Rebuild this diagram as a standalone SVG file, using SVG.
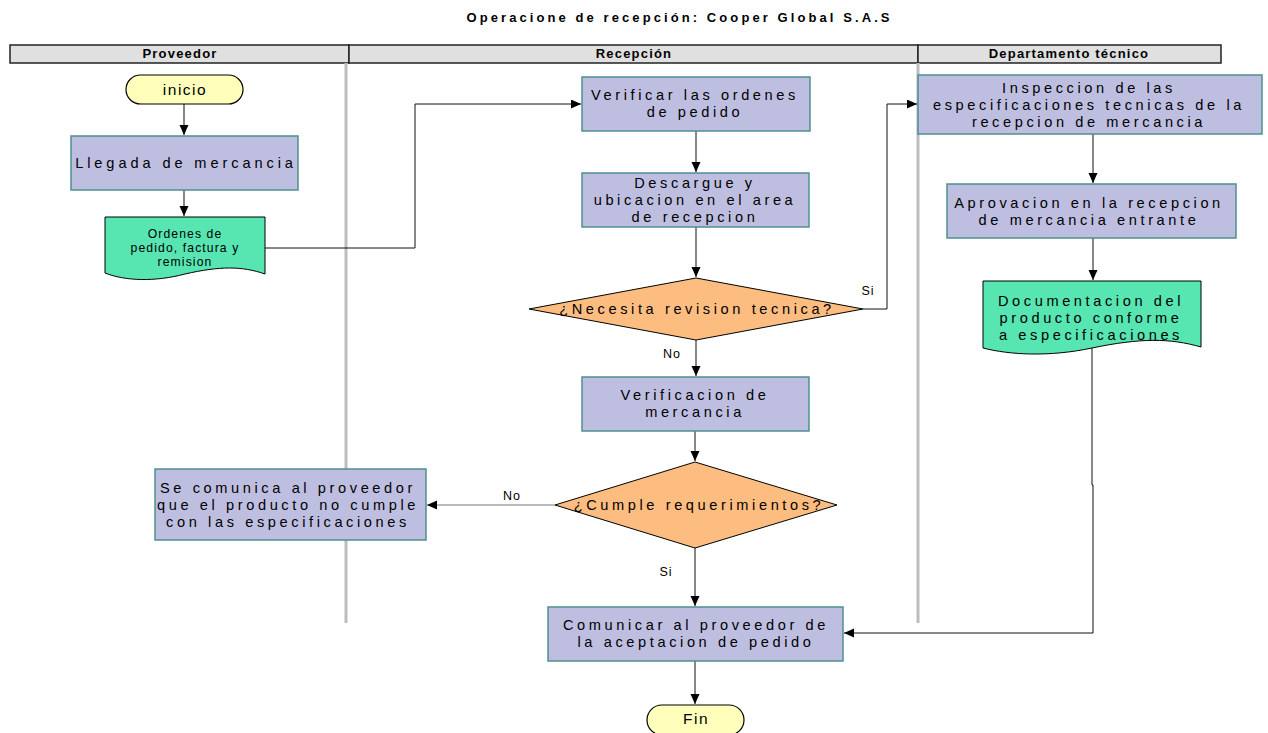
<svg xmlns="http://www.w3.org/2000/svg" width="1268" height="733" viewBox="0 0 1268 733">
<style>
text{font-family:"Liberation Sans",Arial,sans-serif;fill:#000;text-anchor:middle}
.t{font-size:13px;font-weight:bold}
.h{font-size:13px;font-weight:bold;letter-spacing:1.2px}
.n{font-size:14.6px;letter-spacing:3.6px}
.s{font-size:12.2px;letter-spacing:1.1px}
.l{font-size:12.5px;letter-spacing:1px}
.box{fill:#bebfe0;stroke:#4f8f8f;stroke-width:1.5}
.dec{fill:#fdbd80;stroke:#000;stroke-width:1}
.doc{fill:#57e6b2;stroke:#000;stroke-width:1}
.term{fill:#ffffbb;stroke:#000;stroke-width:1.2}
.hdr{fill:#e0e0e0;stroke:#222;stroke-width:1.5}
.lane{stroke:#bdbdbd;stroke-width:3;fill:none}
.c{fill:none;stroke:#111;stroke-width:1}
</style>
<defs>
<marker id="a" markerUnits="userSpaceOnUse" markerWidth="11" markerHeight="10" refX="10" refY="4.5" orient="auto">
<path d="M0,0 L10,4.5 L0,9 z" fill="#000"/>
</marker>
</defs>
<rect width="1268" height="733" fill="#fff"/>
<text class="t" x="678" y="22" textLength="423" lengthAdjust="spacing">Operacione de recepción: Cooper Global S.A.S</text>
<g id="lanes">
<rect class="hdr" x="10" y="45" width="339" height="18"/>
<rect class="hdr" x="349" y="45" width="569" height="18"/>
<rect class="hdr" x="918" y="45" width="303" height="18"/>
<text class="h" x="180" y="58">Proveedor</text>
<text class="h" x="634" y="58">Recepción</text>
<text class="h" x="1069" y="58">Departamento técnico</text>
<line class="lane" x1="346" y1="63" x2="346" y2="623"/>
<line class="lane" x1="918" y1="63" x2="918" y2="623"/>
</g>
<g id="connectors">
<path class="c" d="M184,104 V135" marker-end="url(#a)"/>
<path class="c" d="M184,190 V216" marker-end="url(#a)"/>
<path class="c" d="M265,248 H415 V104 H581" marker-end="url(#a)"/>
<path class="c" d="M696,131 V172" marker-end="url(#a)"/>
<path class="c" d="M696,227 V277" marker-end="url(#a)"/>
<path class="c" d="M863,309 H887 V104 H917" marker-end="url(#a)"/>
<path class="c" d="M696,340 V376" marker-end="url(#a)"/>
<path class="c" d="M695,431 V461" marker-end="url(#a)"/>
<path class="c" style="stroke:#777" d="M555,505 H427" marker-end="url(#a)"/>
<path class="c" d="M695,548 V606" marker-end="url(#a)"/>
<path class="c" d="M695,661 V704" marker-end="url(#a)"/>
<path class="c" d="M1093,134 V183" marker-end="url(#a)"/>
<path class="c" d="M1093,238 V280" marker-end="url(#a)"/>
<path class="c" d="M1092,346 V485 H1093 V633 H844" marker-end="url(#a)"/>
<text class="l" x="868" y="295">Si</text>
<text class="l" x="672" y="358">No</text>
<text class="l" x="512" y="500">No</text>
<text class="l" x="666" y="576">Si</text>
</g>
<g id="inicio">
<rect class="term" x="126" y="75" width="117" height="29" rx="14.5"/>
<text class="n" x="185" y="95" style="font-size:15.5px;letter-spacing:1.5px">inicio</text>
</g>
<g id="llegada">
<rect class="box" x="71" y="136" width="227" height="54"/>
<text class="n" x="186" y="168" style="letter-spacing:3.9px">Llegada de mercancia</text>
</g>
<g id="ordenes">
<path class="doc" d="M105,217 H265 V274 C242,266 220,266 185,274 C155,282 125,281 105,273 Z"/>
<text class="s" x="185" y="238">Ordenes de</text>
<text class="s" x="185" y="252">pedido, factura y</text>
<text class="s" x="185" y="266">remision</text>
</g>
<g id="verificar">
<rect class="box" x="582" y="77" width="228" height="54"/>
<text class="n" x="695" y="100">Verificar las ordenes</text>
<text class="n" x="695" y="117">de pedido</text>
</g>
<g id="descargue">
<rect class="box" x="582" y="173" width="227" height="54"/>
<text class="n" x="695" y="188">Descargue y</text>
<text class="n" x="695" y="205">ubicacion en el area</text>
<text class="n" x="695" y="222">de recepcion</text>
</g>
<g id="necesita">
<polygon class="dec" points="696,278 863,309 696,340 529,309"/>
<text class="n" x="697" y="314">¿Necesita revision tecnica?</text>
</g>
<g id="verificacion">
<rect class="box" x="582" y="377" width="227" height="54"/>
<text class="n" x="695" y="400">Verificacion de</text>
<text class="n" x="695" y="417">mercancia</text>
</g>
<g id="cumple">
<polygon class="dec" points="695,462 837,505 695,548 555,505"/>
<text class="n" x="699" y="510">¿Cumple requerimientos?</text>
</g>
<g id="secomunica">
<rect class="box" x="155" y="469" width="271" height="71"/>
<text class="n" x="288" y="493">Se comunica al proveedor</text>
<text class="n" x="288" y="510">que el producto no cumple</text>
<text class="n" x="288" y="527">con las especificaciones</text>
</g>
<g id="comunicar">
<rect class="box" x="548" y="607" width="295" height="54"/>
<text class="n" x="696" y="630">Comunicar al proveedor de</text>
<text class="n" x="696" y="647">la aceptacion de pedido</text>
</g>
<g id="fin">
<rect class="term" x="647" y="705" width="97" height="30" rx="15"/>
<text class="n" x="696" y="724" style="font-size:15.5px;letter-spacing:1.5px">Fin</text>
</g>
<g id="inspeccion">
<rect class="box" x="918" y="75" width="344" height="59"/>
<text class="n" x="1089" y="93">Inspeccion de las</text>
<text class="n" x="1089" y="110">especificaciones tecnicas de la</text>
<text class="n" x="1089" y="127">recepcion de mercancia</text>
</g>
<g id="aprovacion">
<rect class="box" x="947" y="184" width="289" height="54"/>
<text class="n" x="1089" y="208">Aprovacion en la recepcion</text>
<text class="n" x="1089" y="225">de mercancia entrante</text>
</g>
<g id="documentacion">
<path class="doc" d="M983,281 H1201 V347 C1170,338 1140,338 1092,348 C1050,357 1010,355 983,348 Z"/>
<text class="n" x="1091" y="306">Documentacion del</text>
<text class="n" x="1091" y="323">producto conforme</text>
<text class="n" x="1091" y="340">a especificaciones</text>
</g>
</svg>
